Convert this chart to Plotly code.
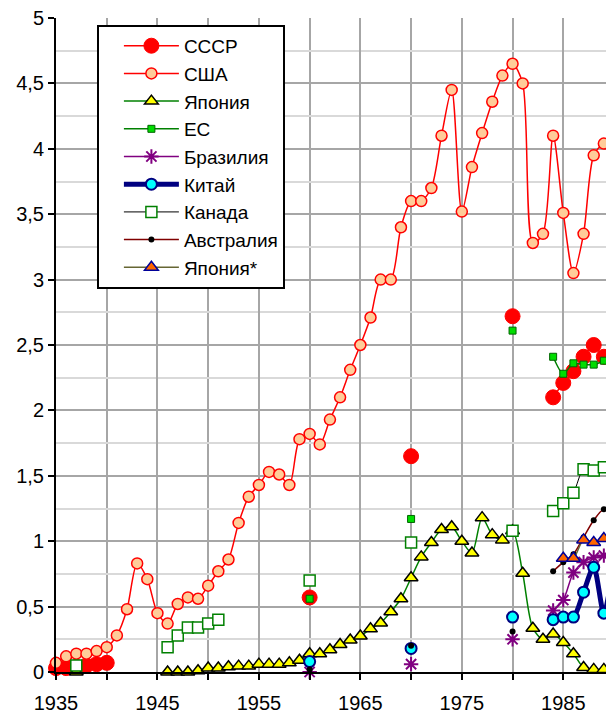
import plotly.graph_objects as go

# ---------------- data ----------------
usa_years = list(range(1935, 1991))
usa_vals = [0.07, 0.12, 0.14, 0.14, 0.16, 0.19, 0.28, 0.48, 0.83, 0.71,
            0.45, 0.37, 0.52, 0.57, 0.56, 0.66, 0.77, 0.86, 1.14, 1.34,
            1.43, 1.53, 1.51, 1.43, 1.78, 1.82, 1.74, 1.93, 2.10, 2.31,
            2.50, 2.71, 3.00, 3.00, 3.40, 3.60, 3.60, 3.70, 4.10, 4.45,
            3.52, 3.86, 4.12, 4.36, 4.56, 4.65, 4.50, 3.28, 3.35, 4.10,
            3.51, 3.05, 3.35, 3.95, 4.04, 4.06]

ussr_years = [1935, 1936, 1937, 1938, 1939, 1940, 1960, 1970, 1980,
              1984, 1985, 1986, 1987, 1988, 1989, 1990]
ussr_vals = [0.03, 0.03, 0.04, 0.05, 0.06, 0.07, 0.57, 1.65, 2.72,
             2.10, 2.21, 2.30, 2.41, 2.50, 2.41, 2.41]

japan_years = [1937] + list(range(1946, 1991))
japan_vals = [0.0,
              0.0, 0.0, 0.0, 0.01, 0.03, 0.03, 0.04, 0.045, 0.045, 0.06,
              0.06, 0.06, 0.07, 0.09, 0.14, 0.14, 0.17, 0.21, 0.245, 0.275,
              0.33, 0.375, 0.46, 0.56, 0.72, 0.88, 0.99, 1.09, 1.11, 1.00,
              0.91, 1.18, 1.05, 1.01, 1.08, 0.755, 0.335, 0.25, 0.29, 0.225,
              0.14, 0.035, 0.02, 0.02, 0.02]

eu_years = [1960, 1970, 1980, 1984, 1985, 1986, 1987, 1988, 1989]
eu_vals = [0.56, 1.17, 2.61, 2.41, 2.28, 2.36, 2.35, 2.35, 2.38]

brazil_years = [1960, 1970, 1980, 1984, 1985, 1986, 1987, 1988, 1989, 1990]
brazil_vals = [0.0, 0.06, 0.25, 0.47, 0.55, 0.76, 0.84, 0.875, 0.89, 0.93]

china_years = [1960, 1970, 1980, 1984, 1985, 1986, 1987, 1988, 1989, 1990]
china_vals = [0.08, 0.18, 0.42, 0.40, 0.42, 0.42, 0.61, 0.80, 0.45, 0.86]

canada_years = [1937, 1946, 1947, 1948, 1949, 1950, 1951, 1960, 1970, 1980,
                1984, 1985, 1986, 1987, 1988, 1989, 1990]
canada_vals = [0.05, 0.19, 0.28, 0.34, 0.34, 0.37, 0.40, 0.70, 0.99, 1.08,
               1.23, 1.29, 1.37, 1.55, 1.54, 1.565, 1.58]

australia_years = [1960, 1970, 1980, 1984, 1985, 1986, 1987, 1988, 1989, 1990]
australia_vals = [0.02, 0.20, 0.31, 0.77, 0.84, 0.90, 1.03, 1.16, 1.245, 1.23]

japan2_years = [1985, 1986, 1987, 1988, 1989, 1990]
japan2_vals = [0.87, 0.87, 1.01, 0.99, 1.02, 1.09]

x_tick_vals = [1935, 1945, 1955, 1965, 1975, 1985]
y_tick_vals = [0, 0.5, 1, 1.5, 2, 2.5, 3, 3.5, 4, 4.5, 5]


def gapped(years, vals):
    """Insert None between non-consecutive years so lines break there."""
    xs, ys = [], []
    prev = None
    for yr, v in zip(years, vals):
        if prev is not None and yr - prev > 1:
            xs.append(None)
            ys.append(None)
        xs.append(yr)
        ys.append(v)
        prev = yr
    return xs, ys


FONT = "Liberation Sans, Arial, sans-serif"
fig = go.Figure()


def add(name, years, vals, line, marker):
    xs, ys = gapped(years, vals)
    fig.add_trace(go.Scatter(
        x=xs, y=ys, name=name, mode="lines+markers",
        line=dict(shape="spline", smoothing=0.8, **line),
        marker=marker, connectgaps=False, cliponaxis=False,
    ))


add("СССР", ussr_years, ussr_vals,
    dict(color="#FF0000", width=1.5),
    dict(symbol="circle", size=15, color="#FF0000",
         line=dict(color="#FF0000", width=1)))
add("США", usa_years, usa_vals,
    dict(color="#FF0000", width=1.5),
    dict(symbol="circle", size=11, color="#FFCC99",
         line=dict(color="#FF0000", width=1.5)))
add("Япония", japan_years, japan_vals,
    dict(color="#008000", width=1.5),
    dict(symbol="triangle-up", size=12, color="#FFFF00",
         line=dict(color="#000000", width=1.5)))
add("ЕС", eu_years, eu_vals,
    dict(color="#008000", width=1.5),
    dict(symbol="square", size=7, color="#00DD00",
         line=dict(color="#006400", width=1)))
add("Бразилия", brazil_years, brazil_vals,
    dict(color="#800080", width=1.5),
    dict(symbol="asterisk-open", size=12, color="#800080",
         line=dict(color="#800080", width=2)))
add("Китай", china_years, china_vals,
    dict(color="#000080", width=5),
    dict(symbol="circle", size=11, color="#00FFFF",
         line=dict(color="#000080", width=2)))
add("Канада", canada_years, canada_vals,
    dict(color="#000000", width=1),
    dict(symbol="square", size=11, color="#FFFFFF",
         line=dict(color="#008000", width=1.5)))
add("Австралия", australia_years, australia_vals,
    dict(color="#800000", width=1.5),
    dict(symbol="circle", size=6, color="#000000",
         line=dict(color="#000000", width=0)))
add("Япония*", japan2_years, japan2_vals,
    dict(color="#666633", width=1.5),
    dict(symbol="triangle-up", size=12, color="#FF6600",
         line=dict(color="#000099", width=1.5)))

# The page body adds an 8px offset on the left and top, so the figure's
# margins are trimmed by that amount to land the plot where the reference has it.
fig.update_layout(
    template="none",
    width=614, height=713, autosize=False,
    margin=dict(l=48, r=8, t=10, b=49, pad=0),
    paper_bgcolor="white", plot_bgcolor="white",
    separators=", ",
    font=dict(family=FONT, size=20, color="black"),
    showlegend=True,
    legend=dict(
        x=0.0733, y=0.9895, xanchor="left", yanchor="top",
        bgcolor="white", bordercolor="black", borderwidth=2,
        font=dict(family=FONT, size=19, color="black"),
        itemwidth=55, indentation=20, traceorder="normal",
    ),
)

fig.update_xaxes(
    automargin=False,
    range=[1935, 1990], tickvals=x_tick_vals,
    showgrid=True, gridcolor="#A6A6A6", gridwidth=2,
    minor=dict(dtick=5, tick0=1935, showgrid=True, gridcolor="#A6A6A6",
               gridwidth=2, ticks="outside", ticklen=6, tickcolor="black",
               tickwidth=2),
    ticks="outside", ticklen=6, tickwidth=2, tickcolor="black",
    showline=True, linecolor="black", linewidth=2, zeroline=False,
    ticklabelstandoff=6, ticklabeloverflow="allow",
    tickfont=dict(family=FONT, size=20, color="black"),
)
fig.update_yaxes(
    automargin=False,
    range=[0, 5], tickvals=y_tick_vals,
    showgrid=True, gridcolor="#A6A6A6", gridwidth=2,
    minor=dict(dtick=0.25, tick0=0, showgrid=True, gridcolor="#D9D9D9",
               gridwidth=2),
    ticks="outside", ticklen=6, tickwidth=2, tickcolor="black",
    showline=True, linecolor="black", linewidth=2, zeroline=False,
    ticklabeloverflow="allow",
    tickfont=dict(family=FONT, size=20, color="black"),
)

fig.write_html("out.html")
